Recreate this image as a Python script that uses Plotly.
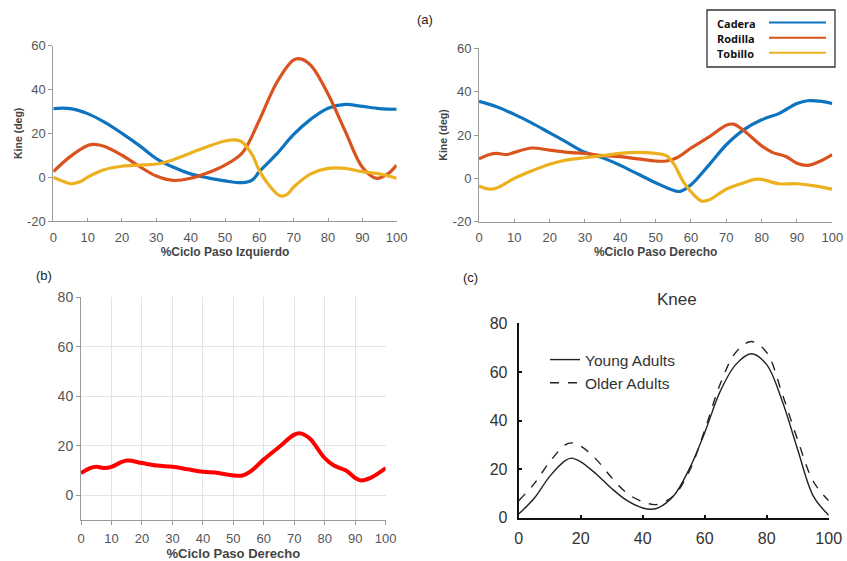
import plotly.graph_objects as go

W, H = 847, 561

# ---------- Panel (a) left: %Ciclo Paso Izquierdo ----------
xa_l_cad = [0, 5, 10, 15, 20, 25, 30, 35, 40, 45, 50, 55, 58, 60, 65, 70, 75, 80, 85, 90, 95, 100]
ya_l_cad = [31.3, 31.3, 29, 25, 20, 14.5, 8.5, 4.5, 1.5, -0.3, -1.7, -2.5, -1.2, 2.5, 10.5, 19.5, 26.5, 31.5, 33.2, 32.3, 31.3, 31]
xa_l_rod = [0, 5, 10, 12, 15, 20, 25, 30, 35, 40, 45, 50, 55, 60, 65, 70, 72, 75, 80, 85, 90, 94, 97, 100]
ya_l_rod = [2.5, 9.5, 14.5, 15, 14, 10, 5, 0.5, -1.5, -0.5, 2, 5.5, 11, 26, 43, 53.5, 54, 51, 38, 21, 4.5, -0.5, 1, 5.5]
xa_l_tob = [0, 3, 5, 8, 10, 15, 20, 25, 30, 35, 40, 45, 50, 53, 55, 58, 60, 63, 66, 68, 70, 75, 80, 85, 90, 95, 100]
ya_l_tob = [0, -2, -3, -2, 0, 3.5, 5, 5.5, 6, 8, 11, 14, 16.5, 17, 16, 10, 3, -4, -8.5, -8, -4.5, 1.5, 4, 4, 2.5, 1.5, -0.5]

# ---------- Panel (a) right: %Ciclo Paso Derecho ----------
xa_r_cad = [0, 5, 10, 15, 20, 25, 30, 35, 40, 45, 50, 55, 57, 60, 65, 70, 75, 80, 85, 90, 93, 97, 100]
ya_r_cad = [35.5, 33, 29.5, 25.5, 21, 16.5, 12, 9.5, 6, 2, -2, -5.5, -6, -3, 6, 15.5, 22.5, 27, 30, 34.5, 35.8, 35.5, 34.5]
xa_r_rod = [0, 3, 5, 8, 10, 15, 20, 25, 30, 35, 40, 45, 50, 53, 56, 60, 65, 70, 72, 75, 80, 83, 87, 90, 93, 96, 100]
ya_r_rod = [9, 11, 11.5, 11, 12, 14, 13, 12, 11.5, 10.5, 10, 9, 8, 8, 9.5, 14, 19, 24.5, 25, 22, 15, 12, 10, 7, 6, 7.5, 11]
xa_r_tob = [0, 3, 5, 10, 15, 20, 25, 30, 35, 40, 45, 50, 53, 55, 58, 61, 63, 65, 70, 75, 78, 80, 85, 90, 95, 100]
ya_r_tob = [-3.5, -5, -4.5, 0, 3.5, 6.5, 8.5, 9.5, 10.5, 11.5, 12, 11.5, 10.5, 7, -2, -8, -10.5, -10, -5, -2, -0.5, -0.5, -2.5, -2.5, -3.5, -5]

# ---------- Panel (b) ----------
xb = [0, 3, 5, 8, 10, 15, 20, 25, 30, 35, 40, 45, 50, 53, 56, 60, 65, 70, 72, 75, 80, 83, 87, 90, 92, 95, 100]
yb = [9, 11, 11.5, 11, 11.5, 14, 13, 12, 11.5, 10.5, 9.5, 9, 8, 8, 10, 14.5, 19.5, 24.5, 25, 23, 15, 12, 10, 7, 6, 7, 11]

# ---------- Panel (c) Knee ----------
xc = [0, 5, 10, 15, 17, 20, 25, 30, 35, 40, 43, 45, 50, 55, 60, 65, 70, 75, 80, 85, 90, 95, 100]
yc_young = [1.5, 8, 17, 23.5, 24.5, 23, 18, 12, 7, 4, 3.5, 4, 9, 20, 35, 52, 63, 67.5, 63, 48, 28, 9, 1]
yc_older = [7, 14, 23, 30, 30.8, 29.5, 24, 16.5, 10, 6.5, 5.5, 5.5, 9, 19, 36, 55, 68, 72.5, 68, 51, 32, 15, 7]

ticks_a_x = [0, 10, 20, 30, 40, 50, 60, 70, 80, 90, 100]
ticks_a_y = [-20, 0, 20, 40, 60]
ticks_a_y_text = ["-20", "0", "20", "40", "60"]
ticks_b_y = [0, 20, 40, 60, 80]
ticks_c = [0, 20, 40, 60, 80, 100]

C_CAD = "#0E74C0"
C_ROD = "#D9531E"
C_TOB = "#EDB120"

FONT = "Liberation Sans, Arial, sans-serif"


def px_x(p):
    return p / W


def px_y(p):
    return 1 - p / H


fig = go.Figure()

series_a = [
    ("x", "y", xa_l_cad, ya_l_cad, C_CAD),
    ("x", "y", xa_l_rod, ya_l_rod, C_ROD),
    ("x", "y", xa_l_tob, ya_l_tob, C_TOB),
    ("x2", "y2", xa_r_cad, ya_r_cad, C_CAD),
    ("x2", "y2", xa_r_rod, ya_r_rod, C_ROD),
    ("x2", "y2", xa_r_tob, ya_r_tob, C_TOB),
]
for xa, ya, xs, ys, col in series_a:
    fig.add_trace(go.Scatter(x=xs, y=ys, xaxis=xa, yaxis=ya, mode="lines",
                             line=dict(color=col, width=3.2, shape="spline", smoothing=1.0),
                             showlegend=False, hoverinfo="skip"))

fig.add_trace(go.Scatter(x=xb, y=yb, xaxis="x3", yaxis="y3", mode="lines",
                         line=dict(color="#FF0000", width=4, shape="spline", smoothing=1.0),
                         showlegend=False))

fig.add_trace(go.Scatter(x=xc, y=yc_young, xaxis="x4", yaxis="y4", mode="lines",
                         name="Young Adults",
                         line=dict(color="#222222", width=1.4, shape="spline", smoothing=1.0)))
fig.add_trace(go.Scatter(x=xc, y=yc_older, xaxis="x4", yaxis="y4", mode="lines",
                         name="Older Adults",
                         line=dict(color="#222222", width=1.4, dash="dash", shape="spline", smoothing=1.0)))

axis_a_common = dict(showgrid=False, zeroline=False, showline=True, linecolor="#9a9a9a",
                     linewidth=1, tickcolor="#9a9a9a", automargin=False,
                     tickfont=dict(family=FONT, size=13, color="#555555"))

fig.update_layout(
    width=W, height=H,
    margin=dict(l=0, r=0, t=0, b=0, autoexpand=False),
    paper_bgcolor="white", plot_bgcolor="white",
    font=dict(family=FONT),
    xaxis=dict(domain=[px_x(53.3), px_x(396.7)], range=[0, 100], tickvals=ticks_a_x, anchor="y",
               ticks="inside", ticklen=3, ticklabelstandoff=4,
               title=dict(text="<b>%Ciclo Paso Izquierdo</b>", font=dict(size=12, color="#444444"), standoff=0),
               **axis_a_common),
    yaxis=dict(domain=[px_y(221), px_y(45.7)], range=[-20, 60], tickvals=ticks_a_y, ticktext=ticks_a_y_text,
               anchor="x", ticks="outside", ticklen=4,
               title=dict(text="<b>Kine (deg)</b>", font=dict(size=10.5, color="#444444"), standoff=2),
               **axis_a_common),
    xaxis2=dict(domain=[px_x(479), px_x(832.3)], range=[0, 100], tickvals=ticks_a_x, anchor="y2",
                ticks="inside", ticklen=3, ticklabelstandoff=4,
                title=dict(text="<b>%Ciclo Paso Derecho</b>", font=dict(size=12, color="#444444"), standoff=0),
                **axis_a_common),
    yaxis2=dict(domain=[px_y(221.7), px_y(48.3)], range=[-20, 60], tickvals=ticks_a_y, ticktext=ticks_a_y_text,
                anchor="x2", ticks="outside", ticklen=4,
                title=dict(text="<b>Kine (deg)</b>", font=dict(size=10.5, color="#444444"), standoff=2),
                **axis_a_common),
    xaxis3=dict(domain=[px_x(81), px_x(385.7)], range=[0, 100], dtick=10, anchor="y3",
                showgrid=True, gridcolor="#e3e3e3", zeroline=False, showline=True, linecolor="#9a9a9a",
                ticks="outside", ticklen=4, tickcolor="#9a9a9a", automargin=False, ticklabelstandoff=2,
                tickfont=dict(size=13, color="#555555"),
                title=dict(text="<b>%Ciclo Paso Derecho</b>", font=dict(size=13, color="#444444"), standoff=3)),
    yaxis3=dict(domain=[px_y(520), px_y(297.3)], range=[-10, 80], tickvals=ticks_b_y, anchor="x3",
                showgrid=True, gridcolor="#e3e3e3", zeroline=False, showline=True, linecolor="#9a9a9a",
                ticks="outside", ticklen=4, tickcolor="#9a9a9a", automargin=False,
                tickfont=dict(size=14, color="#555555")),
    xaxis4=dict(domain=[px_x(518.7), px_x(828.7)], range=[0, 100], tickvals=ticks_c, anchor="y4",
                showgrid=False, zeroline=False, showline=True, linecolor="#111111", linewidth=2,
                ticks="inside", ticklen=3, tickwidth=2, tickcolor="#111111", automargin=False,
                ticklabelstandoff=5,
                tickfont=dict(size=16, color="#333333")),
    yaxis4=dict(domain=[px_y(517.7), px_y(323.3)], range=[0, 80], tickvals=[0, 20, 40, 60, 80], anchor="x4",
                showgrid=False, zeroline=False, showline=True, linecolor="#111111", linewidth=2,
                ticks="inside", ticklen=3, tickwidth=2, tickcolor="#111111", automargin=False,
                ticklabelstandoff=6,
                tickfont=dict(size=16, color="#333333")),
    legend=dict(x=px_x(545), y=px_y(343), xanchor="left", yanchor="top",
                bgcolor="rgba(0,0,0,0)", font=dict(size=15.5, color="#333333"),
                tracegroupgap=0, itemwidth=30),
)

# Legend box for panel (a)
fig.add_shape(type="rect", xref="paper", yref="paper",
              x0=px_x(707), x1=px_x(835), y0=px_y(67), y1=px_y(10),
              line=dict(color="#333333", width=1.3), fillcolor="white")
legend_items = [("Cadera", C_CAD, 22.5), ("Rodilla", C_ROD, 37.7), ("Tobillo", C_TOB, 52.7)]
for name, col, yy in legend_items:
    fig.add_annotation(x=px_x(715), y=px_y(yy), xref="paper", yref="paper",
                       text="<b>" + name + "</b>", showarrow=False, xanchor="left", yanchor="middle",
                       height=14, valign="middle",
                       font=dict(family="Open Sans, Liberation Sans, sans-serif", size=11, color="#111111"))
    fig.add_shape(type="line", xref="paper", yref="paper",
                  x0=px_x(769), x1=px_x(826), y0=px_y(yy), y1=px_y(yy),
                  line=dict(color=col, width=2))

# Panel labels
for txt, xx, yy in [("(a)", 425, 20), ("(b)", 44, 275), ("(c)", 470, 277)]:
    fig.add_annotation(x=px_x(xx), y=px_y(yy), xref="paper", yref="paper", text=txt,
                       showarrow=False, xanchor="center", yanchor="middle",
                       font=dict(size=13, color="#222222"))
fig.add_annotation(x=px_x(677), y=px_y(299), xref="paper", yref="paper", text="Knee",
                   showarrow=False, xanchor="center", yanchor="middle",
                   font=dict(size=17, color="#333333"))

fig.write_html("out.html", config={"displayModeBar": False},
               post_script="document.body.style.margin='0';document.body.style.overflow='hidden';")
